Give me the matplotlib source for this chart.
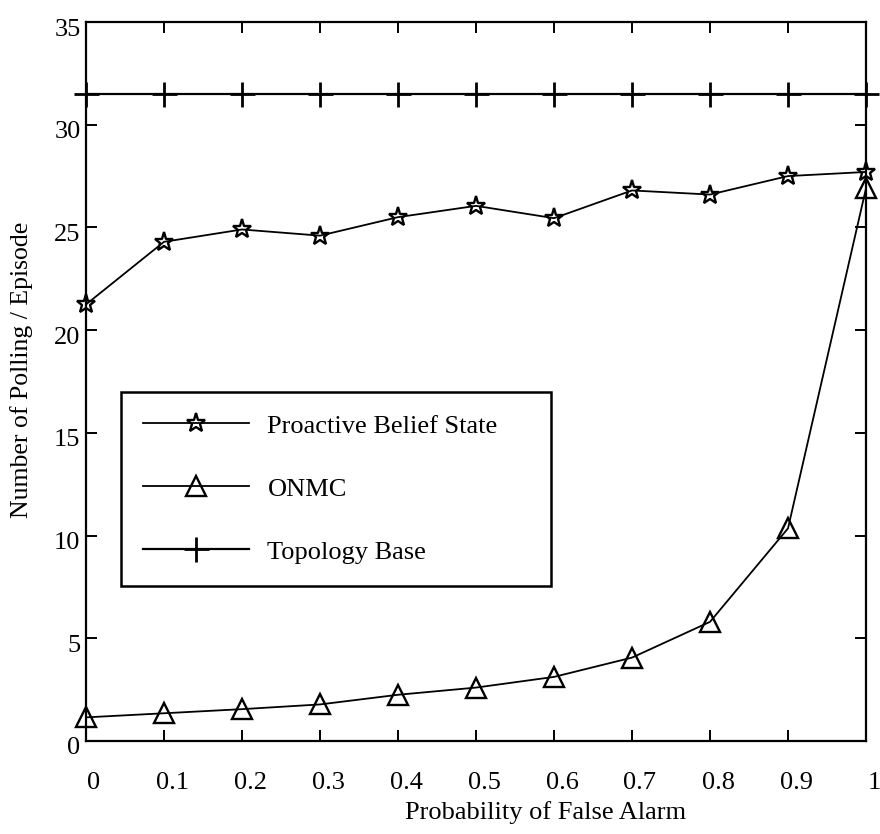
import numpy as np
import matplotlib
matplotlib.use('Agg')
import matplotlib.pyplot as plt
from matplotlib.transforms import ScaledTranslation

plt.rcParams['font.family'] = ['Liberation Serif', 'DejaVu Serif']
plt.rcParams['font.size'] = 19

## data
p_false = [0, 0.1, 0.2, 0.3, 0.4, 0.5, 0.6, 0.7, 0.8, 0.9, 1.0]
proactive = [21.25, 24.3, 24.9, 24.6, 25.5, 26.05, 25.45, 26.8, 26.6, 27.5, 27.7]
onmc = [1.15, 1.35, 1.55, 1.78, 2.25, 2.6, 3.12, 4.06, 5.8, 10.35, 26.9]
topology = [31.5] * 11
xticks = [0, 0.1, 0.2, 0.3, 0.4, 0.5, 0.6, 0.7, 0.8, 0.9, 1]
xticklabels = ['0', '0.1', '0.2', '0.3', '0.4', '0.5', '0.6', '0.7', '0.8', '0.9', '1']
yticks = [0, 5, 10, 15, 20, 25, 30, 35]

fig = plt.figure(figsize=(8.8, 8.34), dpi=100)
ax = fig.add_axes([86/880, 93/834, 780/880, 719/834])

ax.plot(p_false, proactive, color='k', lw=1.3, marker='*', ms=14, mfc='none',
        mec='k', mew=1.7, clip_on=False, label='Proactive Belief State')
ax.plot(p_false, onmc, color='k', lw=1.3, marker='^', ms=15, mfc='none',
        mec='k', mew=1.7, clip_on=False, label='ONMC')
ax.plot(p_false, topology, color='k', lw=1.6, marker='+', ms=18, mew=2.0,
        clip_on=False, label='Topology Base')

ax.set_xlim(0, 1)
ax.set_ylim(0, 35)
ax.set_xticks(xticks)
ax.set_xticklabels(xticklabels)
ax.set_yticks(yticks)
for s in ax.spines.values():
    s.set_linewidth(1.6)
ax.tick_params(direction='in', top=True, right=True, width=1.4, length=8)
ax.tick_params(axis='x', pad=22)
ax.tick_params(axis='y', pad=4)

# tick labels sit a little off their ticks in the original
for lab in ax.get_xticklabels():
    lab.set_transform(lab.get_transform() + ScaledTranslation(0.08, 0, fig.dpi_scale_trans))
for lab in ax.get_yticklabels():
    lab.set_transform(lab.get_transform() + ScaledTranslation(0, -0.05, fig.dpi_scale_trans))

ax.set_xlabel('Probability of False Alarm')
ax.xaxis.set_label_coords((546-86)/780, (741-801)/719)
ax.set_ylabel('Number of Polling / Episode', va='center', fontsize=18.5)
ax.yaxis.set_label_coords((22-86)/780, (741-370)/719)

leg = ax.legend(loc='upper left', bbox_to_anchor=(121/880, 1-400/834, 430/880, 0.01),
                bbox_transform=fig.transFigure, mode='expand', fancybox=False,
                edgecolor='k', framealpha=1, borderaxespad=0, borderpad=0.85,
                handlelength=4.0, handletextpad=0.7, labelspacing=1.5, fontsize=19)
leg.get_frame().set_linewidth(1.8)

fig.savefig('out.png', dpi=100)
